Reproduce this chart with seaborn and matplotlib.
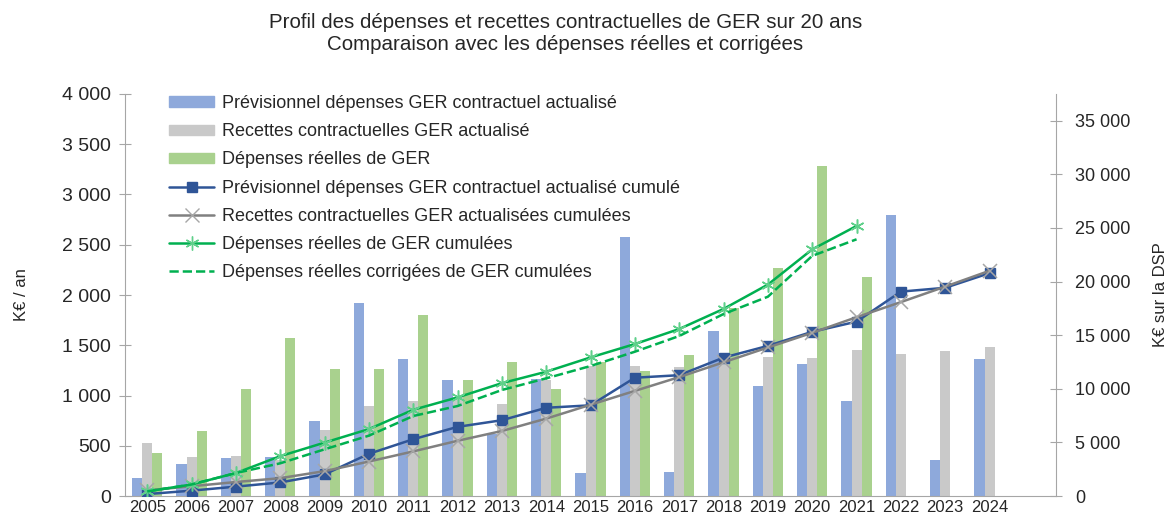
import pandas as pd
import matplotlib.pyplot as plt
import seaborn as sns
from matplotlib.patches import Patch
from matplotlib.lines import Line2D
from matplotlib.ticker import FuncFormatter, MultipleLocator

# Données (K€)
annees = [str(a) for a in range(2005, 2025)]
ordre = annees + ['']  # dernière catégorie vide comme dans Excel

prev_depenses = [180, 320, 375, 390, 750, 1920, 1360, 1155, 620, 1160,
                 230, 2575, 235, 1640, 1095, 1315, 945, 2800, 358, 1366]
recettes = [525, 385, 395, 360, 655, 895, 945, 990, 915, 1155,
            1293, 1293, 1287, 1380, 1380, 1373, 1453, 1410, 1443, 1480]
dep_reelles = [428, 647, 1068, 1572, 1267, 1260, 1801, 1154, 1330, 1065,
               1337, 1247, 1403, 1871, 2272, 3284, 2182]

prev_cumul = [180, 500, 875, 1265, 2015, 3935, 5295, 6450, 7070, 8230,
              8460, 11035, 11270, 12910, 14005, 15320, 16265, 19065, 19423, 20790]
recettes_cumul = [525, 910, 1305, 1665, 2320, 3215, 4160, 5150, 6065, 7220,
                  8513, 9806, 11093, 12473, 13853, 15226, 16679, 18089, 19532, 21012]
reelles_cumul = [428, 1075, 2143, 3715, 4982, 6242, 8043, 9197, 10527, 11592,
                 12929, 14176, 15579, 17450, 19722, 23006, 25188]
corrigees_cumul = [428, 1075, 2143, 3050, 4354, 5630, 7462, 8395, 9890, 10977,
                   12126, 13460, 14925, 16977, 18590, 22400, 23945]

noms = ['Prévisionnel dépenses GER contractuel actualisé',
        'Recettes contractuelles GER actualisé',
        'Dépenses réelles de GER',
        'Prévisionnel dépenses GER contractuel actualisé cumulé',
        'Recettes contractuelles GER actualisées cumulées',
        'Dépenses réelles de GER cumulées',
        'Dépenses réelles corrigées de GER cumulées']

c_bleu, c_gris, c_vert = '#8EA9DB', '#C9C9C9', '#A9D18E'
c_bleu_l, c_gris_l, c_vert_l = '#2F5597', '#808080', '#00B050'

barres = pd.concat([
    pd.DataFrame({'annee': annees, 'val': prev_depenses, 'serie': noms[0]}),
    pd.DataFrame({'annee': annees, 'val': recettes, 'serie': noms[1]}),
    pd.DataFrame({'annee': annees[:len(dep_reelles)], 'val': dep_reelles, 'serie': noms[2]}),
])

sns.set_style('white')
plt.rcParams['font.family'] = ['Liberation Sans', 'DejaVu Sans']

fig = plt.figure(figsize=(11.73, 5.17), dpi=100)
ax = fig.add_axes([0.1066, 0.0406, 0.7937, 0.7776])

sns.barplot(data=barres, x='annee', y='val', hue='serie', order=ordre,
            hue_order=noms[:3], palette=[c_bleu, c_gris, c_vert],
            saturation=1, linewidth=0, width=0.68, gap=0,
            errorbar=None, legend=False, ax=ax)

ax2 = ax.twinx()
courbes = [
    (annees, prev_cumul, c_bleu_l, 's', '-'),
    (annees, recettes_cumul, c_gris_l, 'x', '-'),
    (annees[:len(reelles_cumul)], reelles_cumul, c_vert_l, (6, 2, 0), '-'),
    (annees[:len(corrigees_cumul)], corrigees_cumul, c_vert_l, '', '--'),
]
for x, y, col, mk, ls in courbes:
    d = pd.DataFrame({'annee': x, 'val': y})
    sns.pointplot(data=d, x='annee', y='val', order=ordre, color=col,
                  marker=mk, markersize=7.5 if mk == 's' else 10,
                  markeredgewidth=1 if mk == 's' else 1.1,
                  linestyle=ls, linewidth=1.8, errorbar=None, ax=ax2)

# marqueurs gris/verts plus clairs
lignes = ax2.get_lines()
lignes[1].set_markeredgecolor('#A6A6A6')
lignes[2].set_markeredgecolor('#5FD08A')

ax.set_ylim(0, 4000)
ax2.set_ylim(0, 37500)
ax.set_xlim(-0.5, len(ordre) - 0.5)

fmt = FuncFormatter(lambda v, p: f'{int(v):,}'.replace(',', ' '))
ax.yaxis.set_major_locator(MultipleLocator(500))
ax.yaxis.set_major_formatter(fmt)
ax2.yaxis.set_major_locator(MultipleLocator(5000))
ax2.yaxis.set_major_formatter(FuncFormatter(
    lambda v, p: '' if v > 36000 else f'{int(v):,}'.replace(',', ' ')))

ax.set_xticks(range(len(ordre)))
ax.set_xticklabels(ordre, fontsize=12)
ax.set_xticks([i - 0.5 for i in range(len(ordre) + 1)], minor=True)
ax.tick_params(axis='x', which='major', length=0, pad=3)
ax.tick_params(axis='x', which='minor', length=7, width=1, color='#A6A6A6', direction='out')
ax.tick_params(axis='y', labelsize=14, length=8, direction='inout', color='#A6A6A6', pad=6)
ax2.tick_params(axis='y', labelsize=13, length=8, direction='inout', color='#A6A6A6', pad=10)

ax.set_xlabel('')
ax2.set_xlabel('')
ax.set_ylabel('K€ / an', fontsize=12, labelpad=24)
ax2.set_ylabel('K€ sur la DSP', fontsize=12, labelpad=16)

for a in (ax, ax2):
    for s in a.spines.values():
        s.set_color('#A6A6A6')
    a.spines['top'].set_visible(False)
ax.spines['right'].set_visible(False)
ax2.spines['bottom'].set_visible(False)
ax2.spines['left'].set_visible(False)

handles = [
    Patch(color=c_bleu), Patch(color=c_gris), Patch(color=c_vert),
    Line2D([], [], color=c_bleu_l, marker='s', markersize=7.5, lw=1.8),
    Line2D([], [], color=c_gris_l, marker='x', markersize=10, mec='#A6A6A6', lw=1.8),
    Line2D([], [], color=c_vert_l, marker=(6, 2, 0), markersize=10, mec='#5FD08A', lw=1.8),
    Line2D([], [], color=c_vert_l, lw=1.8, ls='--'),
]
leg = ax2.legend(handles, noms, loc='upper left', bbox_to_anchor=(0.03, 1.038),
                 frameon=False, fontsize=13, handlelength=2.5, handleheight=0.5,
                 labelspacing=0.62, handletextpad=0.45)

fig.suptitle('Profil des dépenses et recettes contractuelles de GER sur 20 ans\n'
             'Comparaison avec les dépenses réelles et corrigées',
             x=0.482, y=0.975, fontsize=14.8, linespacing=1.2)

fig.savefig('out.png', dpi=100)
